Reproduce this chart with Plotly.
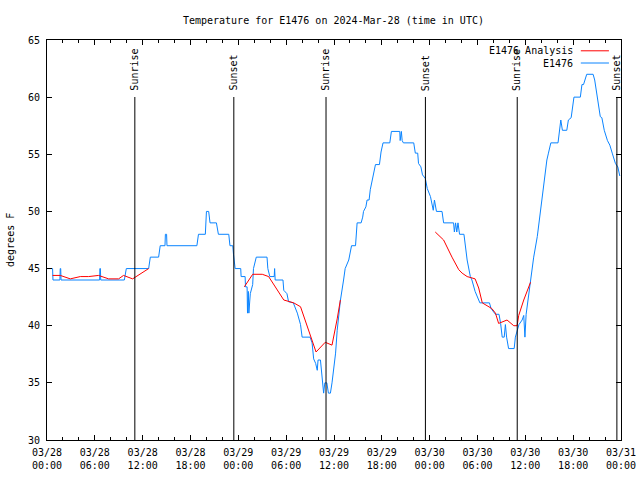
import datetime as dt
import plotly.graph_objects as go

TITLE = "Temperature for E1476 on 2024-Mar-28 (time in UTC)"
BASE = dt.datetime(2024, 3, 28, 0, 0)

# Observations (hours since 03/28 00:00 UTC, degrees F)
obs_hours = [0.0, 0.70, 0.75, 1.62, 1.66, 1.72, 1.76, 6.60, 6.63, 6.70, 6.74, 9.70, 9.95, 12.75, 12.96,
             14.00, 14.20, 14.80, 14.85, 15.00, 15.05, 18.80, 19.00, 19.86, 20.00, 20.28, 20.45, 21.25,
             21.50, 22.80, 22.95, 23.30, 23.40, 23.60, 24.30, 24.35, 24.85, 24.90, 25.10, 25.15, 25.25,
             25.32, 25.50, 25.80, 25.90, 26.10, 26.25, 27.60, 27.70, 27.95, 28.50, 28.55, 28.62, 29.60,
             29.70, 30.10, 30.30, 30.90, 31.40, 31.80, 32.00, 33.00, 33.25, 33.45, 33.70, 33.90, 34.00,
             34.30, 34.40, 34.70, 34.85, 35.10, 35.30, 35.55, 35.75, 35.95, 36.20, 36.40, 36.60, 36.80,
             37.20, 37.40, 37.85, 38.05, 38.20, 38.70, 38.80, 38.90, 39.40, 39.60, 39.70, 40.00, 40.15,
             40.40, 40.55, 40.80, 41.00, 41.20, 41.70, 41.90, 42.15, 43.00, 43.20, 44.25, 44.30, 44.45,
             44.55, 44.70, 46.00, 46.20, 46.50, 46.60, 46.90, 47.10, 47.45, 47.70, 48.10, 48.45, 48.60,
             48.85, 49.55, 49.75, 51.00, 51.10, 51.25, 51.40, 51.55, 51.75, 52.30, 52.50, 52.70, 53.10,
             53.30, 53.70, 54.30, 55.50, 55.70, 56.25, 56.70, 56.90, 57.10, 57.35, 57.50, 57.65, 57.90,
             58.60, 58.75, 59.20, 59.60, 59.80, 59.95, 60.10, 60.65, 61.05, 61.50, 61.90, 62.10, 62.30,
             62.50, 62.70, 62.90, 63.20, 64.10, 64.30, 64.45, 64.65, 65.20, 65.40, 65.75, 66.10, 66.90,
             67.10, 67.30, 67.70, 68.50, 68.70, 68.90, 69.10, 69.40, 69.60, 69.90, 70.30, 70.60, 70.90,
             71.30, 71.60, 71.85]
obs_temps = [45, 45, 44, 44, 45, 45, 44, 44, 45, 45, 44, 44, 45, 45, 46,
             46, 47, 47, 48, 48, 47, 47, 48, 48, 50, 50, 49, 49,
             48, 48, 47, 47, 46.2, 45, 45, 44.3, 44.3, 43.4, 43.4, 41.1, 43.0,
             41.1, 42.8, 43.6, 45, 45.6, 46, 46, 45, 44.3, 44.3, 45, 44, 44,
             43.1, 42.8, 42.1, 42.0, 41.1, 40.1, 39.0, 39.0, 38.5, 37.1, 36.7, 36.1, 37.0,
             37.0, 36.1, 34.1, 35.0, 35.0, 34.1, 34.1, 35.0, 36.1, 37.6, 39.6, 41.1, 42.2,
             44.0, 45.0, 45.75, 46.6, 47.0, 47.0, 47.8, 49.0, 49.0, 49.5, 50.0, 50.4, 51.0,
             51.0, 51.9, 52.7, 53.3, 54.1, 54.1, 55.2, 56.0, 56.0, 57.0, 57.0, 56.2, 57.0,
             56.2, 56.0, 56.0, 55.1, 55.1, 54.2, 53.9, 53.2, 52.9, 52.0, 51.3, 50.1, 51.0,
             50.0, 50.0, 49.0, 49.0, 48.2, 49.0, 48.2, 49.0, 48.0, 48.0, 46.9, 45.75, 44.3,
             44.0, 43.0, 42.0, 42.0, 41.5, 41.0, 41.0, 40.2, 39.0, 39.0, 40.1, 39.0, 38.0,
             38.0, 39.0, 40.1, 40.5, 40.9, 39.0, 41.0, 44.0, 46.0, 47.8, 50.1, 51.3, 52.5,
             53.6, 54.5, 55.1, 56.0, 56.0, 57.1, 58.0, 57.1, 57.1, 58.0, 58.2, 60.0, 60.0,
             61.1, 61.1, 62.0, 62.0, 61.5, 60.6, 60.0, 58.3, 58.2, 57.1, 56.2, 55.8, 55.1,
             54.2, 53.9, 53.1]

# Analysis segments
ana1_hours = [0.7, 1.67, 2.92, 4.18, 5.22, 6.47, 7.73, 8.98, 9.6, 10.74, 12.75]
ana1_temps = [44.4, 44.4, 44.1, 44.3, 44.3, 44.4, 44.1, 44.1, 44.4, 44.1, 45.0]
ana2_hours = [24.75, 25.8, 27.0, 27.8, 29.7, 30.95, 31.8, 33.25, 33.75, 34.9, 35.75, 36.4, 36.8]
ana2_temps = [43.4, 44.5, 44.5, 44.3, 42.25, 42.0, 41.66, 38.75, 37.7, 38.55, 38.3, 40.6, 42.25]
ana3_hours = [48.7, 49.75, 50.8, 51.65, 52.07, 52.7, 53.7, 54.15, 54.6, 55.4, 55.8, 56.25, 56.65,
              57.7, 58.55, 58.97, 59.17, 59.8, 60.2, 60.65]
ana3_temps = [48.2, 47.5, 46.0, 44.9, 44.6, 44.3, 44.1, 43.3, 42.0, 41.7, 41.5, 41.1, 40.2,
              40.5, 40.0, 40.0, 40.9, 42.25, 43.0, 43.8]

# Sun events
sun_labels = ["Sunrise", "Sunset", "Sunrise", "Sunset", "Sunrise", "Sunset"]
sun_times = ["2024-03-28 11:01", "2024-03-28 23:26", "2024-03-29 11:00",
             "2024-03-29 23:28", "2024-03-30 10:59", "2024-03-30 23:29"]

tick_times = ["2024-03-28 00:00", "2024-03-28 06:00", "2024-03-28 12:00", "2024-03-28 18:00",
              "2024-03-29 00:00", "2024-03-29 06:00", "2024-03-29 12:00", "2024-03-29 18:00",
              "2024-03-30 00:00", "2024-03-30 06:00", "2024-03-30 12:00", "2024-03-30 18:00",
              "2024-03-31 00:00"]
tick_labels = ["03/28<br>00:00", "03/28<br>06:00", "03/28<br>12:00", "03/28<br>18:00",
               "03/29<br>00:00", "03/29<br>06:00", "03/29<br>12:00", "03/29<br>18:00",
               "03/30<br>00:00", "03/30<br>06:00", "03/30<br>12:00", "03/30<br>18:00",
               "03/31<br>00:00"]
y_ticks = [30, 35, 40, 45, 50, 55, 60, 65]

BLUE = "#0a84ff"
RED = "#ff0000"
FONT = "DejaVu Sans Mono"


def to_time(hours):
    return [BASE + dt.timedelta(hours=h) for h in hours]


ana_x = to_time(ana1_hours) + [None] + to_time(ana2_hours) + [None] + to_time(ana3_hours)
ana_y = ana1_temps + [None] + ana2_temps + [None] + ana3_temps

fig = go.Figure()
fig.add_trace(go.Scatter(x=to_time(obs_hours), y=obs_temps, mode="lines", name="E1476",
                         line=dict(color=BLUE, width=1)))
fig.add_trace(go.Scatter(x=ana_x, y=ana_y, mode="lines", name="E1476 Analysis",
                         line=dict(color=RED, width=1), connectgaps=False))

shapes = []
annotations = []
for lab, t in zip(sun_labels, sun_times):
    shapes.append(dict(type="line", xref="x", yref="paper", x0=t, x1=t, y0=0, y1=0.8575,
                       line=dict(color="black", width=1)))
    annotations.append(dict(x=t, y=0.868, xref="x", yref="paper", text=lab, textangle=-90,
                            showarrow=False, xanchor="center", yanchor="bottom",
                            font=dict(family=FONT, size=10, color="black")))

# manual legend (text left of sample line)
leg = [("E1476 Analysis", RED, 0.973), ("E1476", BLUE, 0.9425)]
for txt, col, yy in leg:
    annotations.append(dict(x=0.920, y=yy, xref="paper", yref="paper", text=txt, showarrow=False,
                            xanchor="right", yanchor="middle",
                            font=dict(family=FONT, size=10, color="black")))
    shapes.append(dict(type="line", xref="paper", yref="paper", x0=0.930, x1=0.979, y0=yy, y1=yy,
                       line=dict(color=col, width=1)))

annotations.append(dict(x=-0.0645, y=0.5, xref="paper", yref="paper", text="degrees F",
                        textangle=-90, showarrow=False, xanchor="center", yanchor="middle",
                        font=dict(family=FONT, size=10, color="black")))

fig.update_layout(
    width=640, height=480,
    margin=dict(l=47, r=19, t=40, b=40, autoexpand=False),
    paper_bgcolor="white", plot_bgcolor="white",
    showlegend=False,
    title=dict(text=TITLE, x=0.521, xanchor="center", y=0.958, yanchor="middle",
               font=dict(family=FONT, size=10, color="black")),
    font=dict(family=FONT, size=10, color="black"),
    shapes=shapes, annotations=annotations,
)
fig.update_xaxes(
    range=["2024-03-28 00:00", "2024-03-31 00:00"],
    tickvals=tick_times, ticktext=tick_labels,
    ticks="inside", ticklen=5, tickcolor="black", tickwidth=1,
    minor=dict(dtick=2 * 3600 * 1000, ticks="inside", ticklen=3, tickcolor="black", tickwidth=1, showgrid=False),
    showline=True, linecolor="black", linewidth=1, mirror="ticks",
    showgrid=False, zeroline=False, automargin=False, ticklabelstandoff=3,
    tickfont=dict(family=FONT, size=10, color="black"),
)
fig.update_yaxes(
    range=[30, 65], tickvals=y_ticks,
    ticks="inside", ticklen=5, tickcolor="black", tickwidth=1,
    showline=True, linecolor="black", linewidth=1, mirror="ticks",
    showgrid=False, zeroline=False, ticklabelstandoff=4, automargin=False,
    tickfont=dict(family=FONT, size=10, color="black"),
)

# remove the default 8px page margin so the 640x480 figure fills the window
fig.write_html("out.html",
               config={"displayModeBar": False},
               post_script="document.body.style.margin='0';document.body.style.padding='0';"
                           "document.body.style.overflow='hidden';")
